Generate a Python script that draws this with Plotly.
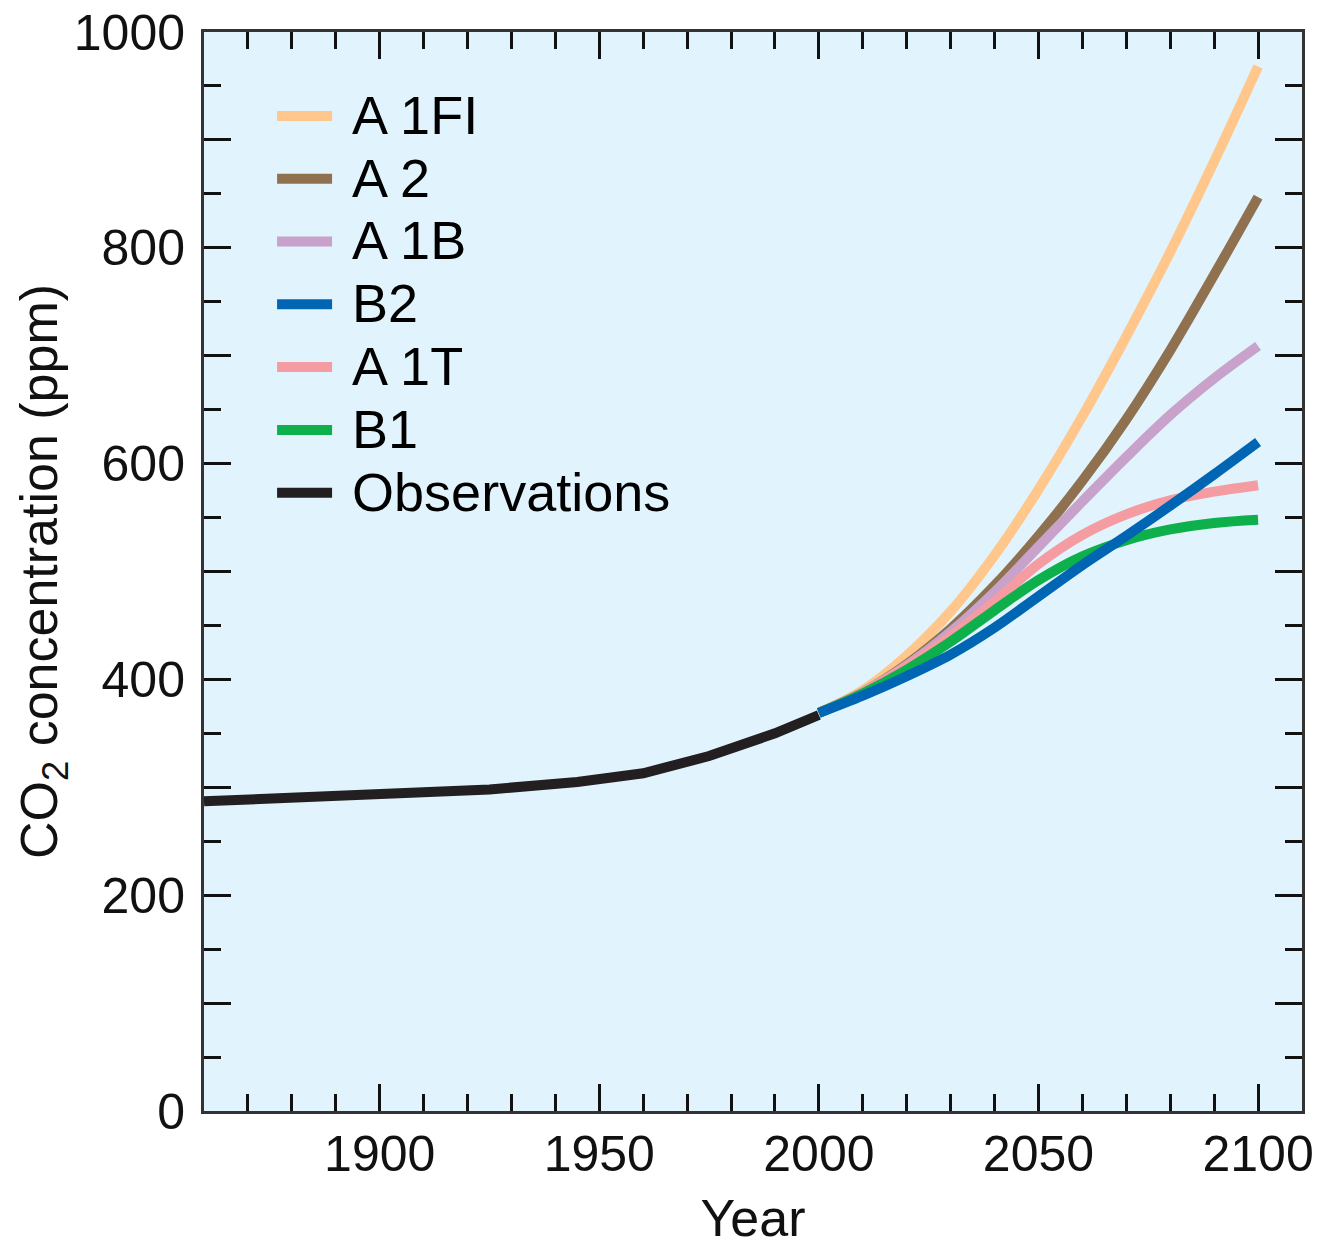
import plotly.graph_objects as go

# ---- data ----
obs_years = [1860, 1880, 1900, 1925, 1945, 1960, 1975, 1990, 2000]
obs_ppm = [287, 290, 293, 298, 305, 313, 329, 350, 367]

scen_years = [2000, 2010, 2020, 2030, 2040, 2050, 2060, 2070, 2080, 2090, 2100]
a1fi = [369, 390, 422, 463, 515, 576, 644, 718, 796, 880, 968]
a2 = [369, 388, 414, 447, 487, 533, 584, 641, 705, 775, 847]
a1b = [369, 388, 413, 444, 481, 523, 565, 606, 645, 679, 709]
b2 = [369, 385, 403, 423, 448, 477, 506, 533, 561, 590, 620]
a1t = [369, 388, 412, 440, 472, 507, 534, 553, 566, 574, 580]
b1 = [369, 387, 409, 435, 464, 492, 514, 529, 539, 545, 548]

y_tickvals = [0, 100, 200, 300, 400, 500, 600, 700, 800, 900, 1000]
y_ticktext = ["0", "", "200", "", "400", "", "600", "", "800", "", "1000"]
x_tickvals = [1900, 1950, 2000, 2050, 2100]
x_ticktext = ["1900", "1950", "2000", "2050", "2100"]

# drawing order (bottom -> top) with legend rank
series = [
    ("A 1FI", a1fi, "#FFC78B", 1),
    ("A 2", a2, "#8F7150", 2),
    ("A 1B", a1b, "#C8A2CA", 3),
    ("A 1T", a1t, "#F49CA1", 5),
    ("B1", b1, "#0DB04B", 6),
    ("B2", b2, "#0066B3", 4),
]

LEG = '<span style="font-size:54px">\u00a0{}</span>'

fig = go.Figure()
for name, vals, color, rank in series:
    fig.add_trace(go.Scatter(
        x=scen_years, y=vals, mode="lines", name=LEG.format(name),
        line=dict(color=color, width=10, shape="spline", smoothing=1.0),
        legendrank=rank,
    ))
fig.add_trace(go.Scatter(
    x=obs_years, y=obs_ppm, mode="lines", name=LEG.format("Observations"),
    line=dict(color="#231F20", width=10), legendrank=7,
))

FONT = "Liberation Sans, Arial, Helvetica, sans-serif"

fig.update_layout(
    width=1321, height=1247,
    margin=dict(l=204, r=19, t=32, b=136, autoexpand=False),
    paper_bgcolor="white",
    plot_bgcolor="#E1F4FD",
    font=dict(family=FONT, color="black"),
    showlegend=True,
    legend=dict(
        x=0.062, y=0.956, xanchor="left", yanchor="top",
        bgcolor="rgba(0,0,0,0)", borderwidth=0,
        font=dict(family=FONT, size=46, color="black"),
        itemwidth=55, tracegroupgap=0,
    ),
)

fig.update_xaxes(
    range=[1860, 2110], automargin=False,
    tickmode="array", tickvals=x_tickvals, ticktext=x_ticktext,
    ticks="inside", ticklen=27, tickwidth=3, tickcolor="#111",
    minor=dict(tickmode="linear", tick0=1860, dtick=10, ticks="inside",
               ticklen=17, tickwidth=3, tickcolor="#111"),
    showline=True, linewidth=3, linecolor="#333", mirror="ticks",
    showgrid=False, zeroline=False,
    tickfont=dict(family=FONT, size=50, color="#111"),
    ticklabelstandoff=-3,
    title=dict(text="Year", font=dict(family=FONT, size=52, color="#111"), standoff=22),
)
fig.update_yaxes(
    range=[0, 1000], automargin=False,
    tickmode="array", tickvals=y_tickvals, ticktext=y_ticktext,
    ticks="inside", ticklen=27, tickwidth=3, tickcolor="#111",
    minor=dict(tickmode="linear", tick0=0, dtick=50, ticks="inside",
               ticklen=17, tickwidth=3, tickcolor="#111"),
    showline=True, linewidth=3, linecolor="#333", mirror="ticks",
    showgrid=False, zeroline=False,
    tickfont=dict(family=FONT, size=50, color="#111"),
    ticklabelstandoff=6,
    title=dict(text="CO<sub>2</sub> concentration (ppm)",
               font=dict(family=FONT, size=52, color="#111"), standoff=0),
)

fig.write_html("out.html")
